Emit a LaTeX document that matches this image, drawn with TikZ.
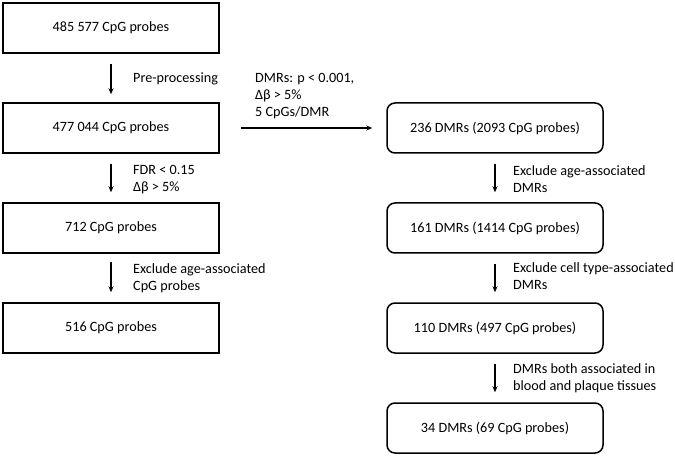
\documentclass[tikz,border=0pt]{standalone}
\usepackage{fontspec}
\setmainfont{Carlito}
\usetikzlibrary{arrows.meta}
\begin{document}
\begin{tikzpicture}[x=1pt,y=-1pt,
  sqbox/.style={draw, line width=1.5pt, minimum width=216pt, minimum height=50pt, inner sep=0pt, font=\fontsize{14.2}{17}\selectfont},
  rbox/.style={sqbox, rounded corners=8pt},
  lab/.style={anchor=west, align=left, inner sep=0pt, font=\fontsize{14.2}{17}\selectfont},
  flow/.style={-{Stealth[length=6pt,width=5pt]}, line width=1.1pt}]
\useasboundingbox (0,0) rectangle (675,457);
% left column
\node[sqbox] (a1) at (111,28) {485 577 CpG probes};
\node[sqbox] (a2) at (111,128) {477 044 CpG probes};
\node[sqbox] (a3) at (111,228) {712 CpG probes};
\node[sqbox] (a4) at (111,328) {516 CpG probes};
% right column
\node[rbox] (b1) at (495,128) {236 DMRs (2093 CpG probes)};
\node[rbox] (b2) at (495,228) {161 DMRs (1414 CpG probes)};
\node[rbox] (b3) at (495,328) {110 DMRs (497 CpG probes)};
\node[rbox] (b4) at (495,428) {34 DMRs (69 CpG probes)};
% arrows
\draw[flow, shorten <=10pt, shorten >=8pt] (a1) -- (a2);
\draw[flow, shorten <=10pt, shorten >=10pt] (a2) -- (a3);
\draw[flow, shorten <=8pt, shorten >=10pt] (a3) -- (a4);
\draw[flow, shorten <=21pt, shorten >=14pt] (a2) -- (b1);
\draw[flow, shorten <=10pt, shorten >=10pt] (b1) -- (b2);
\draw[flow, shorten <=10pt, shorten >=10pt] (b2) -- (b3);
\draw[flow, shorten <=10pt, shorten >=10pt] (b3) -- (b4);
% labels
\node[lab] (l1) at (133,79) {Pre-processing};
\node[lab] (l2) at (133,180) {FDR < 0.15\\Δβ > 5\%};
\node[lab] (l3) at (133,278.5) {Exclude age-associated\\CpG probes};
\node[lab] (l4) at (255,96) {DMRs: p < 0.001,\\Δβ > 5\%\\5 CpGs/DMR};
\node[lab] (l5) at (513,179) {Exclude age-associated\\DMRs};
\node[lab] (l6) at (513,276.5) {Exclude cell type-associated\\DMRs};
\node[lab] (l7) at (513,378.5) {DMRs both associated in\\blood and plaque tissues};
\end{tikzpicture}
\end{document}
